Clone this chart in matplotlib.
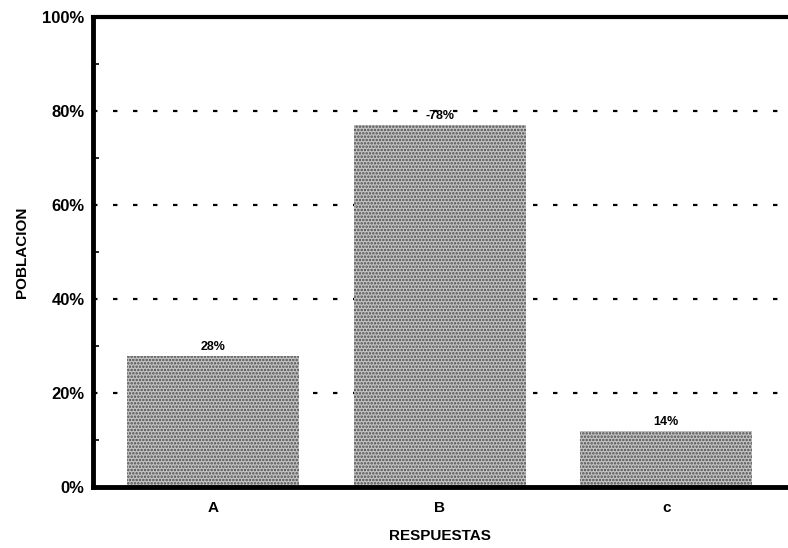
import matplotlib.pyplot as plt
import numpy as np

# respuestas y porcentajes de poblacion
categorias = ['A', 'B', 'c']
alturas = [28, 77, 12]
etiquetas = ['28%', '-78%', '14%']
yticks = [0, 20, 40, 60, 80, 100]
ytick_labels = ['0%', '20%', '40%', '60%', '80%', '100%']


def main():
    fig = plt.figure(figsize=(7.88, 5.48), dpi=100)
    ax = fig.add_axes([0.118, 0.111, 0.880, 0.858])

    x = np.arange(len(categorias))
    for yv in [20, 40, 60, 80]:
        ax.axhline(yv, color='black', lw=1.6, ls=(0, (2, 7)), zorder=1)

    ax.bar(x, alturas, width=0.76, color='#c4c4c4', edgecolor='#4a4a4a',
           linewidth=0, hatch='.....', zorder=2)
    for xi, h, lab in zip(x, alturas, etiquetas):
        ax.text(xi, h + 0.6, lab, ha='center', va='bottom',
                fontsize=9, fontweight='bold', zorder=3)

    ax.set_xlim(-0.53, 2.53)
    ax.set_ylim(0, 100)
    ax.set_xticks(x)
    ax.set_xticklabels(categorias, fontsize=11, fontweight='bold')
    ax.set_yticks(yticks)
    ax.set_yticklabels(ytick_labels, fontsize=12, fontweight='bold')
    ax.set_yticks([10, 30, 50, 70, 90], minor=True)
    ax.tick_params(axis='y', direction='in', length=0, pad=6)
    ax.tick_params(axis='y', which='minor', direction='in', length=4, width=1.2)
    ax.tick_params(axis='x', direction='in', length=6, width=1.2, pad=10)

    ax.set_xlabel('RESPUESTAS', fontsize=11, fontweight='bold', labelpad=10)
    ax.set_ylabel('POBLACION', fontsize=11, fontweight='bold', labelpad=10)

    ax.spines['right'].set_visible(False)
    ax.spines['left'].set_linewidth(3.5)
    ax.spines['bottom'].set_linewidth(3.5)
    ax.spines['top'].set_linewidth(3)

    fig.savefig('out.png', dpi=100)


if __name__ == '__main__':
    plt.rcParams['hatch.linewidth'] = 1.2
    plt.rcParams['font.family'] = ['Liberation Sans', 'DejaVu Sans']
    main()
